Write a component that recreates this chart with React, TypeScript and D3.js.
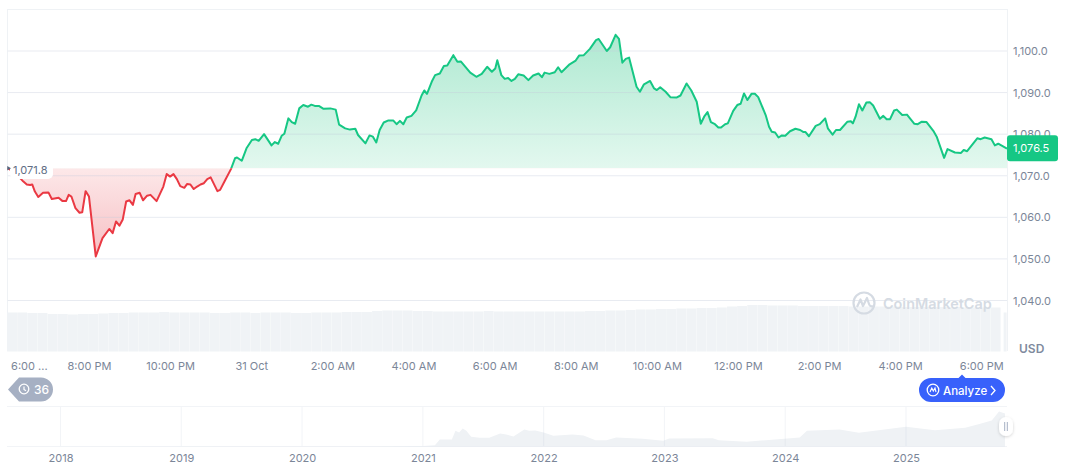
import * as d3 from "d3";
import { useEffect, useRef } from "react";

// minutes after 6:00 PM on 30 Oct
const minutes = [
  0, 8, 16, 23, 28, 33, 36, 40, 45, 52, 60, 65, 75, 81, 86, 90, 94, 100, 106, 110, 115, 120, 130, 140, 150, 155, 160, 165, 170, 175, 180, 185, 189, 195, 200, 206, 211, 220, 230, 235, 240, 245, 250, 255, 261, 265, 270, 275, 280, 285, 290, 295, 300, 310, 314, 321, 330,
  336, 339, 346, 353, 361, 366, 371, 379, 390, 395, 400, 405, 409, 415, 420, 425, 431, 437, 444, 449, 454, 460, 467, 477, 485, 490, 499, 506, 514, 518, 529, 535, 540, 545, 550, 556, 563, 570, 575, 580, 585, 590, 597, 604, 612, 616, 620, 627, 632, 639, 645, 650, 659, 665, 670, 684, 693, 701, 709, 716, 721, 724, 730, 735, 740, 745, 750, 755,
  763, 770, 777, 785, 790, 794, 801, 809, 814, 819, 831, 840, 845, 852, 861, 870, 874, 886, 891, 899, 904, 909, 914, 919, 930, 935, 941, 950, 956, 960, 965, 973, 980, 989, 995, 1004, 1011, 1019, 1025, 1030, 1035, 1040, 1046, 1051, 1055, 1061, 1065, 1073, 1079, 1084, 1089, 1094, 1100, 1105, 1110, 1121, 1126, 1130, 1135, 1140,
  1145, 1150, 1157, 1165, 1172, 1177, 1180, 1185, 1195, 1201, 1209, 1213, 1220, 1225, 1231, 1242, 1247, 1250, 1254, 1259, 1264, 1270, 1275, 1280, 1290, 1295, 1300, 1305, 1311, 1315, 1323, 1330, 1341, 1346, 1352, 1359, 1369, 1374, 1385, 1390, 1401, 1410, 1414, 1419, 1434, 1439, 1445, 1455, 1460, 1465, 1478,
];

const prices = [
  1071.8, 1071.0, 1069.8, 1068.6, 1067.9, 1067.8, 1067.9, 1066.2, 1064.9, 1065.9, 1066.0, 1064.4, 1064.7, 1063.9, 1063.9, 1065.4, 1065.0, 1062.2, 1061.1, 1061.2, 1066.3, 1065.0, 1050.6, 1055.0, 1057.2, 1056.2, 1059.0, 1058.0, 1059.5, 1063.8, 1064.1, 1063.0, 1065.6, 1065.9, 1064.1, 1065.2, 1065.4, 1063.9, 1067.4, 1070.4, 1069.8, 1070.4, 1069.2, 1067.5, 1067.1, 1068.0, 1067.9, 1066.8, 1067.4, 1067.9, 1068.2, 1069.2, 1069.6, 1066.3, 1066.6, 1068.8, 1071.6,
  1074.2, 1074.4, 1073.6, 1076.6, 1078.6, 1078.8, 1078.4, 1080.0, 1077.3, 1078.1, 1077.7, 1079.6, 1080.1, 1083.8, 1082.9, 1082.5, 1086.2, 1087.0, 1086.6, 1087.1, 1086.8, 1086.8, 1086.1, 1086.2, 1085.9, 1082.3, 1081.4, 1081.1, 1081.3, 1079.8, 1077.8, 1079.7, 1079.4, 1078.0, 1081.0, 1082.8, 1083.3, 1083.3, 1082.4, 1083.2, 1082.4, 1084.0, 1084.4, 1085.7, 1089.3, 1090.5, 1089.7, 1092.6, 1094.2, 1094.6, 1096.4, 1096.5, 1099.0, 1097.4, 1097.5, 1094.8, 1093.8, 1094.5, 1096.2, 1095.0, 1095.8, 1097.8, 1094.2, 1093.3, 1093.5, 1092.8, 1093.3, 1094.4,
  1094.1, 1093.0, 1094.1, 1094.6, 1093.7, 1094.8, 1094.5, 1094.9, 1096.1, 1094.9, 1096.8, 1097.7, 1098.9, 1099.0, 1100.5, 1102.6, 1102.9, 1100.0, 1100.9, 1103.9, 1102.9, 1097.2, 1098.1, 1098.4, 1091.4, 1090.2, 1092.0, 1092.8, 1091.0, 1090.6, 1091.3, 1090.2, 1088.9, 1088.8, 1089.3, 1092.2, 1090.5, 1087.8, 1082.5, 1084.2, 1085.3, 1082.9, 1082.4, 1081.6, 1081.6, 1082.4, 1082.6, 1085.6, 1087.0, 1087.3, 1089.8, 1088.2, 1089.7, 1089.7, 1088.9, 1084.6, 1081.8, 1080.6, 1080.4, 1079.2,
  1079.7, 1079.6, 1080.7, 1081.3, 1081.0, 1080.5, 1080.5, 1079.5, 1082.0, 1082.4, 1083.8, 1081.4, 1079.9, 1081.0, 1081.0, 1083.0, 1083.1, 1082.6, 1084.2, 1087.2, 1085.7, 1087.6, 1087.7, 1086.9, 1083.7, 1084.4, 1083.6, 1083.6, 1085.7, 1085.9, 1084.6, 1084.7, 1082.5, 1082.4, 1083.0, 1082.9, 1080.8, 1079.4, 1074.3, 1076.4, 1075.6, 1075.5, 1076.2, 1075.9, 1079.0, 1078.8, 1079.2, 1078.8, 1077.3, 1077.7, 1076.5,
];

// one bar per 15 minutes
const volumes = [
  39, 39, 38.5, 38.5, 37.5, 37.5, 37, 37.5, 37.5, 38, 38.5, 38.5, 39, 39, 39, 39.5, 39, 39, 39, 39, 38.5, 38.5, 39, 39, 38.5, 39, 39, 39, 38.5, 38.5, 39, 39, 39, 39.5, 39.5, 39.5, 40.5, 41, 41, 41, 40.5, 40.5, 40, 40, 40, 40, 40, 40.5, 40, 40, 40, 40, 40, 40, 40, 40, 40, 40.5, 40.5, 41, 41, 41.5, 42, 42, 42.5, 42.5, 43, 43, 43.5, 43.5, 44, 45, 45.5, 46.5, 46.5, 46, 46, 46, 45.5, 45.5, 45.5, 45.5, 45.5, 45, 45, 45, 45, 45, 44.5, 44.5, 44.5, 44.5, 44.5, 44.5, 44, 44, 44, 44,
];
const lastVolume = 39;

const openPrice = 1071.8;
const lastPrice = 1076.5;
const priceTicks = [1040, 1050, 1060, 1070, 1080, 1090, 1100];
const tickHours = [0, 2, 4, 6, 8, 10, 12, 14, 16, 18, 20, 22, 24];
const timeLabels = ["6:00 ...", "8:00 PM", "10:00 PM", "31 Oct", "2:00 AM", "4:00 AM", "6:00 AM", "8:00 AM", "10:00 AM", "12:00 PM", "2:00 PM", "4:00 PM", "6:00 PM"];

const historyYears = [2017.56, 2020.6, 2021.0, 2021.1, 2021.14, 2021.24, 2021.27, 2021.3, 2021.33, 2021.36, 2021.4, 2021.47, 2021.55, 2021.64, 2021.69, 2021.75, 2021.84, 2021.88, 2021.93, 2022.0, 2022.08, 2022.24, 2022.33, 2022.43, 2022.52, 2022.6, 2022.82, 2022.99, 2023.04, 2023.4, 2023.45, 2023.68, 2023.84, 2024.12, 2024.18, 2024.45, 2024.61, 2025.0, 2025.24, 2025.49, 2025.6, 2025.71, 2025.77, 2025.82];
const historyValues = [0, 0.2, 0.4, 1.3, 7, 7, 15.7, 14, 18, 15.7, 9.7, 8.7, 8.7, 13, 12, 10, 17, 15.7, 16, 14, 10.7, 12, 11, 6.3, 6.3, 9, 7.7, 5.7, 8, 8.3, 6.3, 4.7, 6.3, 9, 15.7, 17, 13.7, 19.7, 16.3, 18.7, 22.3, 26, 35, 33];
const yearTicks = [2018, 2019, 2020, 2021, 2022, 2023, 2024, 2025];

const FONT = "Inter, 'Noto Sans', sans-serif";
const GREEN = "#16c784";
const RED = "#ea3943";
const GRID = "#eff2f5";
const TEXT = "#7b8698";

export default function App() {
  const svgRef = useRef<SVGSVGElement>(null);

  useEffect(() => {
    if (!svgRef.current) return;
    const svg = d3.select(svgRef.current);
    svg.selectAll("*").remove();

    const left = 7.86;
    const right = 1007;
    const start = Date.UTC(2025, 9, 30, 18, 0);
    const toDate = (m: number) => new Date(start + m * 60000);

    const x = d3.scaleUtc().domain([toDate(0), toDate(1478)]).range([left, right]);
    const y = d3.scaleLinear().domain([1040, 1100]).range([300.5, 51]);
    const yVol = d3.scaleLinear().domain([0, 50]).range([351.5, 301.5]);
    const xMini = d3.scaleLinear().domain([2018, 2025]).range([60.5, 906]);
    const yMini = d3.scaleLinear().domain([0, 40]).range([446.5, 406.5]);

    const points = minutes.map((m, i) => ({ t: toDate(m), p: prices[i] }));
    const baseY = y(openPrice);

    const defs = svg.append("defs");
    const addGradient = (id: string, y1: number, y2: number, c1: string, c2: string) => {
      const g = defs
        .append("linearGradient")
        .attr("id", id)
        .attr("gradientUnits", "userSpaceOnUse")
        .attr("x1", 0)
        .attr("x2", 0)
        .attr("y1", y1)
        .attr("y2", y2);
      g.append("stop").attr("offset", 0).attr("stop-color", c1);
      g.append("stop").attr("offset", 1).attr("stop-color", c2);
    };
    addGradient("greenFill", 34, baseY, "#aee9d1", "#e3f8ef");
    addGradient("redFill", baseY, 258, "#fde8e9", "#f6bfc3");
    defs.append("clipPath").attr("id", "above").append("rect").attr("x", 0).attr("y", 0).attr("width", 1072).attr("height", baseY);
    defs.append("clipPath").attr("id", "below").append("rect").attr("x", 0).attr("y", baseY).attr("width", 1072).attr("height", 300);
    const shadow = defs.append("filter").attr("id", "handleShadow").attr("x", "-50%").attr("y", "-50%").attr("width", "200%").attr("height", "200%");
    shadow.append("feDropShadow").attr("dx", 0).attr("dy", 1).attr("stdDeviation", 1.5).attr("flood-color", "#000").attr("flood-opacity", 0.18);

    // frame
    const frame = svg.append("g").attr("stroke", GRID).attr("stroke-width", 1);
    frame.append("line").attr("x1", 7).attr("x2", right).attr("y1", 9.5).attr("y2", 9.5);
    frame.append("line").attr("x1", 7.5).attr("x2", 7.5).attr("y1", 9).attr("y2", 351);
    frame.append("line").attr("x1", 1007.5).attr("x2", 1007.5).attr("y1", 9).attr("y2", 351);

    // volume bars
    const barW = x(toDate(15)) - x(toDate(0));
    svg
      .append("g")
      .selectAll("rect")
      .data(volumes)
      .enter()
      .append("rect")
      .attr("x", (_, i) => x(toDate(i * 15)) - 0.8)
      .attr("y", (d) => yVol(d))
      .attr("width", barW - 0.2)
      .attr("height", (d) => yVol(0) - yVol(d))
      .attr("fill", "#f0f3f6");
    svg
      .append("rect")
      .attr("x", x(toDate(1473)))
      .attr("y", yVol(lastVolume))
      .attr("width", 3)
      .attr("height", yVol(0) - yVol(lastVolume))
      .attr("fill", "#f0f3f6");

    // area, split at the opening price
    const area = d3
      .area<{ t: Date; p: number }>()
      .x((d) => x(d.t))
      .y0(baseY)
      .y1((d) => y(d.p));
    const line = d3
      .line<{ t: Date; p: number }>()
      .x((d) => x(d.t))
      .y((d) => y(d.p));

    svg.append("path").datum(points).attr("d", area).attr("fill", "url(#greenFill)").attr("clip-path", "url(#above)");
    svg.append("path").datum(points).attr("d", area).attr("fill", "url(#redFill)").attr("clip-path", "url(#below)");

    // grid shows through the fill
    const grid = svg.append("g").attr("stroke", "#c3cbdb").attr("stroke-opacity", 0.38);
    priceTicks.forEach((t) => {
      grid.append("line").attr("x1", left).attr("x2", right).attr("y1", y(t)).attr("y2", y(t));
    });

    svg.append("path").datum(points).attr("d", line).attr("fill", "none").attr("stroke", GREEN).attr("stroke-width", 2).attr("stroke-linejoin", "round").attr("clip-path", "url(#above)");
    svg.append("path").datum(points).attr("d", line).attr("fill", "none").attr("stroke", RED).attr("stroke-width", 2).attr("stroke-linejoin", "round").attr("clip-path", "url(#below)");

    // y axis
    const yAxis = svg
      .append("g")
      .attr("transform", `translate(${right},0)`)
      .call(
        d3
          .axisRight(y)
          .tickValues(priceTicks)
          .tickSize(0)
          .tickPadding(6)
          .tickFormat((d) => d3.format(",.1f")(d as number))
      );
    yAxis.select(".domain").remove();
    yAxis.selectAll("text").attr("fill", TEXT).style("font", `11px ${FONT}`);

    svg.append("text").attr("x", 1019).attr("y", 352.5).attr("fill", "#808a9d").style("font", `600 12px ${FONT}`).text("USD");

    // x axis
    const xAxis = svg
      .append("g")
      .attr("transform", "translate(0,362.5)")
      .call(
        d3
          .axisBottom(x)
          .tickValues(tickHours.map((h) => toDate(h * 60)))
          .tickSize(0)
          .tickPadding(0)
          .tickFormat((_, i) => timeLabels[i])
      );
    xAxis.select(".domain").remove();
    xAxis.selectAll("text").attr("fill", TEXT).style("font", `11px ${FONT}`);
    xAxis.select(".tick text").attr("x", 21);

    // open price label
    svg.append("rect").attr("x", 10).attr("y", 161).attr("width", 43).attr("height", 18).attr("rx", 5).attr("fill", "#fff");
    svg.append("path").attr("d", d3.symbol(d3.symbolTriangle, 8)()!).attr("transform", `translate(8.5,${baseY}) rotate(90)`).attr("fill", "#58667e");
    svg.append("text").attr("x", 13).attr("y", baseY + 5.5).attr("fill", "#616e85").style("font", `11px ${FONT}`).text(d3.format(",.1f")(openPrice));

    // last price tag
    svg.append("rect").attr("x", 1007).attr("y", y(lastPrice) - 13.5).attr("width", 51).attr("height", 26).attr("rx", 3).attr("fill", GREEN);
    svg.append("text").attr("x", 1013).attr("y", y(lastPrice) + 3.5).attr("fill", "#fff").style("font", `11px ${FONT}`).text(d3.format(",.1f")(lastPrice));

    // watermark
    const mark = svg.append("g").attr("transform", "translate(864,303)");
    mark.append("circle").attr("r", 10.5).attr("fill", "none").attr("stroke", "#d5dbe3").attr("stroke-width", 2.2);
    mark.append("path").attr("d", "M-7,4 L-3.5,-3.5 L-1,3 L3,-5 L5,1 Q6,4 9,3").attr("fill", "none").attr("stroke", "#d5dbe3").attr("stroke-width", 2.2).attr("stroke-linejoin", "round");
    svg.append("text").attr("x", 883).attr("y", 309).attr("fill", "#d5dbe3").style("font", `600 14.4px ${FONT}`).text("CoinMarketCap");

    // history badge
    svg.append("path").attr("d", "M8,389.5 L19,377.5 L41,377.5 A12,12 0 0 1 41,401.5 L19,401.5 Z").attr("fill", "#a6b0c3");
    svg.append("circle").attr("cx", 24).attr("cy", 389).attr("r", 4.8).attr("fill", "none").attr("stroke", "#fff").attr("stroke-width", 1.3);
    svg.append("path").attr("d", "M24,386.5 L24,389.5 L26,390.8").attr("fill", "none").attr("stroke", "#fff").attr("stroke-width", 1.2);
    svg.append("text").attr("x", 34).attr("y", 393.5).attr("fill", "#fff").style("font", `500 12px ${FONT}`).text("36");

    // analyze button
    svg.append("path").attr("d", "M931,378 L958.5,378 L962,374.5 L965.5,378 L993,378 A12,12 0 0 1 993,402 L931,402 A12,12 0 0 1 931,378 Z").attr("fill", "#3861fb");
    svg.append("circle").attr("cx", 933).attr("cy", 390).attr("r", 5.8).attr("fill", "none").attr("stroke", "#fff").attr("stroke-width", 1.3);
    svg.append("path").attr("d", "M930,392 L931.8,388 L933.3,391 L935,388 L936,392").attr("fill", "none").attr("stroke", "#fff").attr("stroke-width", 1.1);
    svg.append("text").attr("x", 943).attr("y", 394.5).attr("fill", "#fff").style("font", `500 11.5px ${FONT}`).text("Analyze");
    svg.append("path").attr("d", "M991,386 L995,390.5 L991,395").attr("fill", "none").attr("stroke", "#fff").attr("stroke-width", 1.3);

    // overview chart
    const miniArea = d3
      .area<number>()
      .x((_, i) => xMini(historyYears[i]))
      .y0(yMini(0))
      .y1((d) => yMini(d));
    svg.append("path").datum(historyValues).attr("d", miniArea).attr("fill", "#eff2f5");

    const miniGrid = svg.append("g").attr("stroke", "#c3cbdb").attr("stroke-opacity", 0.22);
    miniGrid.append("line").attr("x1", 7).attr("x2", right).attr("y1", 406.5).attr("y2", 406.5);
    miniGrid.append("line").attr("x1", 7).attr("x2", right).attr("y1", 446.5).attr("y2", 446.5);
    yearTicks.forEach((yr) => {
      miniGrid.append("line").attr("x1", xMini(yr)).attr("x2", xMini(yr)).attr("y1", 407).attr("y2", 446);
    });

    const miniAxis = svg
      .append("g")
      .attr("transform", "translate(0,454.5)")
      .call(
        d3
          .axisBottom(xMini)
          .tickValues(yearTicks)
          .tickSize(0)
          .tickPadding(0)
          .tickFormat(d3.format("d") as any)
      );
    miniAxis.select(".domain").remove();
    miniAxis.selectAll("text").attr("fill", TEXT).style("font", `11px ${FONT}`);

    // range handle
    svg.append("rect").attr("x", 999).attr("y", 417).attr("width", 14).attr("height", 19).attr("rx", 7).attr("fill", "#fff").attr("filter", "url(#handleShadow)");
    svg.append("path").attr("d", "M1004.7,422 L1004.7,431 M1007.3,422 L1007.3,431").attr("stroke", "#a6b0c3").attr("stroke-width", 1);
  }, []);

  return <svg ref={svgRef} width={1072} height={470} style={{ position: "absolute", left: 0, top: 0, background: "#fff" }} />;
}
